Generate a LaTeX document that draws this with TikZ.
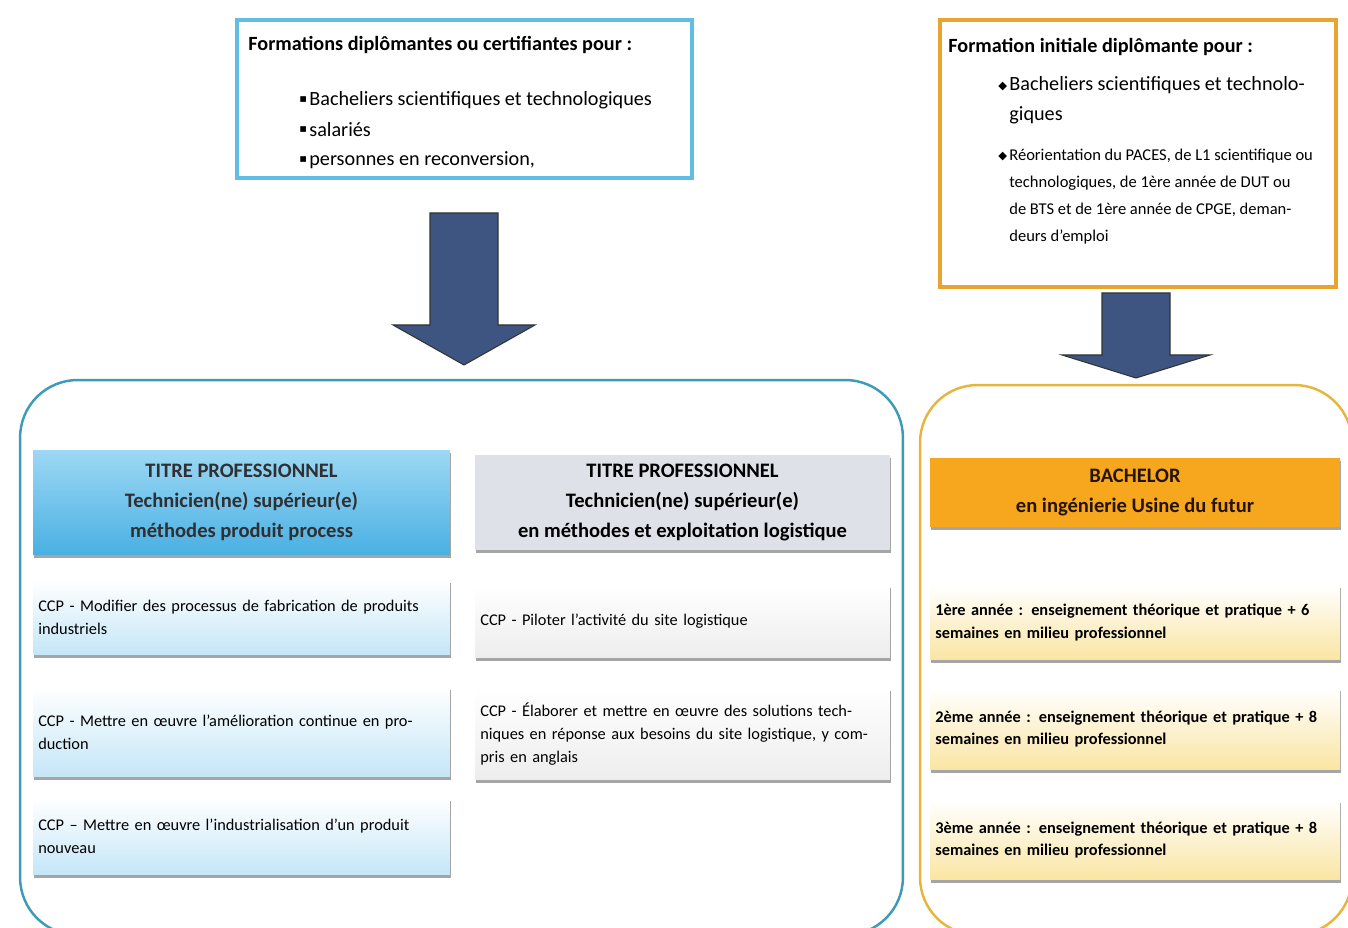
\documentclass[tikz,border=0pt]{standalone}
\usepackage{fontspec}
\setmainfont{Carlito}
\newfontfamily\symfont{DejaVu Sans}
\usepackage{xcolor}
\usetikzlibrary{shadows}

\definecolor{skyline}{HTML}{62BDE2}
\definecolor{tealline}{HTML}{3E9BB8}
\definecolor{goldline}{HTML}{E6B53E}
\definecolor{orangeline}{HTML}{E9A42E}
\definecolor{arrowfill}{HTML}{3F5581}
\definecolor{hdrblueA}{HTML}{9DD8F4}
\definecolor{hdrblueB}{HTML}{49B0E3}
\definecolor{hdrgrey}{HTML}{DEE1E7}
\definecolor{hdrorange}{HTML}{F6A71E}
\definecolor{ccpblue}{HTML}{C4E6F7}
\definecolor{ccpgrey}{HTML}{EDEDED}
\definecolor{ccpyellow}{HTML}{FAE5A2}

\tikzset{
  topbox/.style={draw=#1, line width=2.4pt, fill=white, inner sep=0pt},
  progbox/.style={draw=#1, line width=1.4pt, rounded corners=1.15cm, inner sep=0pt},
  blkarrow/.style={fill=arrowfill, draw=black!80, line width=0.6pt},
  shad/.style={drop shadow={shadow xshift=0.6pt, shadow yshift=-1.6pt, fill=black!70}},
  hdr/.style={shad, align=center, inner sep=0pt, font=\bfseries\fontsize{11.7}{17}\selectfont},
  ccp/.style={shad, align=left, inner xsep=3pt, inner ysep=0pt, font=\fontsize{9.3}{13}\selectfont},
  ttl/.style={anchor=west, inner sep=0pt, font=\bfseries\fontsize{11.5}{12}\selectfont},
  itm/.style={anchor=west, inner sep=0pt, align=left, font=\fontsize{11.5}{17}\selectfont},
  bul/.style={anchor=west, inner sep=0pt, font=\symfont\fontsize{6.5}{6.5}\selectfont}
}

\begin{document}
\begin{tikzpicture}[x=0.02cm, y=-0.02cm]
    \useasboundingbox (0,0) rectangle (1348,928);
    \clip (0,0) rectangle (1348,928);

    % Public concerne
    \node[topbox=skyline, minimum width=9.1cm, minimum height=3.16cm] (topL) at (464.5,99) {};
    \node[topbox=orangeline, minimum width=7.92cm, minimum height=5.34cm] (topR) at (1138,153.5) {};

    \node[ttl] (topLttl) at (248,45) {Formations diplômantes ou certifiantes pour :};
    \node[bul] (topLb1) at (299,100) {▪};
    \node[itm] (topLi1) at (309,100) {Bacheliers scientifiques et technologiques};
    \node[bul] (topLb2) at (299,130) {▪};
    \node[itm] (topLi2) at (309,130) {salariés};
    \node[bul] (topLb3) at (299,160) {▪};
    \node[itm] (topLi3) at (309,160) {personnes en reconversion,};

    \node[ttl] (topRttl) at (948,47) {Formation initiale diplômante pour :};
    \node[bul] (topRb1) at (998,87) {◆};
    \node[itm, anchor=north west] (topRi1) at (1009,76) {Bacheliers scientifiques et technolo-\\giques};
    \node[bul] (topRb2) at (998,157) {◆};
    \node[itm, anchor=north west, font=\fontsize{9.4}{15.3}\selectfont] (topRi2) at (1009,149)
      {Réorientation du PACES, de L1 scientifique ou\\technologiques, de 1ère année de DUT ou\\de BTS et de 1ère année de CPGE, deman-\\deurs d'emploi};

    % Fleches
    \filldraw[blkarrow] (430,213) -- (498,213) -- (498,325) -- (535,325) -- (464,365)
      -- (393,325) -- (430,325) -- cycle;
    \filldraw[blkarrow] (1102,293) -- (1170,293) -- (1170,355) -- (1210,355) -- (1136,378)
      -- (1062,355) -- (1102,355) -- cycle;

    % Parcours
    \node[progbox=tealline, minimum width=17.66cm, minimum height=11.1cm] (progL) at (461.5,657.5) {};
    \node[progbox=goldline, minimum width=8.64cm, minimum height=11cm] (progR) at (1136,660) {};

    % Titres
    \node[hdr, top color=hdrblueA, bottom color=hdrblueB, text=black!80!cyan!40!black,
      minimum width=8.34cm, minimum height=2.1cm] (tpMPP) at (241.5,502.5)
      {TITRE PROFESSIONNEL\\Technicien(ne) supérieur(e)\\méthodes produit process};
    \node[hdr, fill=hdrgrey, minimum width=8.3cm, minimum height=1.9cm] (tpMEL) at (682.5,502.5)
      {TITRE PROFESSIONNEL\\Technicien(ne) supérieur(e)\\en méthodes et exploitation logistique};
    \node[hdr, fill=hdrorange, text=black!75!orange!60!black, minimum width=8.2cm, minimum height=1.38cm] (bach) at (1135,492.5)
      {BACHELOR\\en ingénierie Usine du futur};

    % CCP methodes produit process
    \node[ccp, top color=white, bottom color=ccpblue, text width=8.13cm, minimum height=1.5cm] (mpp1) at (241.5,617.5)
      {CCP - Modifier des processus de fabrication de produits\\industriels};
    \node[ccp, top color=white, bottom color=ccpblue, text width=8.13cm, minimum height=1.8cm] (mpp2) at (241.5,732)
      {CCP - Mettre en œuvre l'amélioration continue en pro-\\duction};
    \node[ccp, top color=white, bottom color=ccpblue, text width=8.13cm, minimum height=1.54cm] (mpp3) at (241.5,836.5)
      {CCP – Mettre en œuvre l'industrialisation d'un produit\\nouveau};

    % CCP logistique
    \node[ccp, top color=white, bottom color=ccpgrey, text width=8.09cm, minimum height=1.46cm] (mel1) at (682.5,621.5)
      {CCP - Piloter l'activité du site logistique};
    \node[ccp, top color=white, bottom color=ccpgrey, text width=8.09cm, minimum height=1.84cm] (mel2) at (682.5,734)
      {CCP - Élaborer et mettre en œuvre des solutions tech-\\niques en réponse aux besoins du site logistique, y com-\\pris en anglais};

    % Annees bachelor
    \node[ccp, top color=white, bottom color=ccpyellow, font=\bfseries\fontsize{9.3}{13}\selectfont,
      text width=7.99cm, minimum height=1.5cm] (an1) at (1135,622.5)
      {1ère année : enseignement théorique et pratique + 6\\semaines en milieu professionnel};
    \node[ccp, top color=white, bottom color=ccpyellow, font=\bfseries\fontsize{9.3}{13}\selectfont,
      text width=7.99cm, minimum height=1.64cm] (an2) at (1135,729)
      {2ème année : enseignement théorique et pratique + 8\\semaines en milieu professionnel};
    \node[ccp, top color=white, bottom color=ccpyellow, font=\bfseries\fontsize{9.3}{13}\selectfont,
      text width=7.99cm, minimum height=1.6cm] (an3) at (1135,840)
      {3ème année : enseignement théorique et pratique + 8\\semaines en milieu professionnel};
\end{tikzpicture}
\end{document}
